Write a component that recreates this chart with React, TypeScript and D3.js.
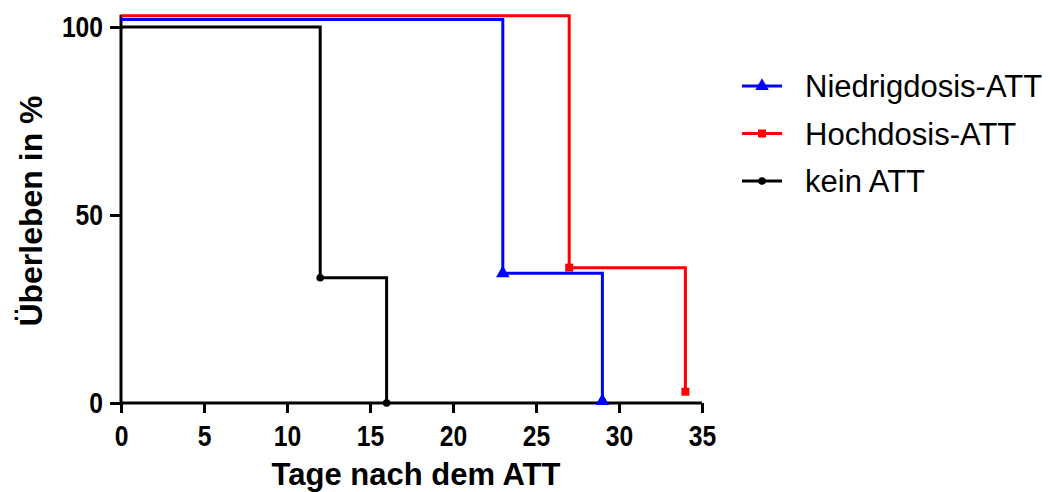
import React, { useEffect, useRef } from 'react';
import * as d3 from 'd3';

// survival steps (x = day, y = % survival, small offsets as drawn)
const seriesNames = ['Niedrigdosis-ATT', 'Hochdosis-ATT', 'kein ATT'];
const seriesColors = ['#0000ff', '#ff0000', '#000000'];
const seriesSymbols = ['triangle', 'square', 'circle'];
const niedrigDays = [0, 23, 29];
const niedrigSurv = [102, 34.5, 0.5];
const hochDays = [0, 27, 34];
const hochSurv = [103, 36, 3];
const keinDays = [0, 12, 16];
const keinSurv = [100, 33.3, 0];
const xTicks = [0, 5, 10, 15, 20, 25, 30, 35];
const yTicks = [0, 50, 100];

const App: React.FC = () => {
  const svgRef = useRef<SVGSVGElement>(null);

  useEffect(() => {
    if (!svgRef.current) return;
    const svg = d3.select(svgRef.current);
    svg.selectAll('*').remove();

    const x = d3.scaleLinear().domain([0, 35]).range([121, 702]);
    const y = d3.scaleLinear().domain([0, 100]).range([403, 27]);
    const font = '"Liberation Sans", Arial, sans-serif';
    const squeeze = 0.85; // tick digits look narrow in the reference

    const series = [
      { days: niedrigDays, surv: niedrigSurv },
      { days: hochDays, surv: hochSurv },
      { days: keinDays, surv: keinSurv },
    ];

    const symbolType = (s: string) =>
      s === 'triangle' ? d3.symbolTriangle : s === 'square' ? d3.symbolSquare : d3.symbolCircle;
    const symbolSize = (s: string) => (s === 'triangle' ? 80 : s === 'square' ? 64 : 45);

    // axes
    const xAxis = svg
      .append('g')
      .attr('transform', `translate(0,${y(0)})`)
      .call(d3.axisBottom(x).tickValues(xTicks).tickSize(10).tickPadding(12).tickSizeOuter(0));
    xAxis.select('.domain').attr('stroke-width', 3).attr('d', `M${x(0)},0H${x(35)}`);
    xAxis.selectAll('.tick line').attr('stroke-width', 3);
    xAxis
      .selectAll('.tick text')
      .attr('font-family', font)
      .attr('font-size', 29)
      .attr('font-weight', 'bold')
      .attr('fill', '#000')
      .attr('transform', `scale(${squeeze},1)`);

    const yAxis = svg
      .append('g')
      .attr('transform', `translate(${x(0)},0)`)
      .call(d3.axisLeft(y).tickValues(yTicks).tickSize(11).tickPadding(7).tickSizeOuter(0));
    yAxis.select('.domain').attr('stroke-width', 3).attr('d', `M0,${y(0)}V${y(103) - 1}`);
    yAxis.selectAll('.tick line').attr('stroke-width', 3);
    yAxis
      .selectAll('.tick text')
      .attr('font-family', font)
      .attr('font-size', 29)
      .attr('font-weight', 'bold')
      .attr('fill', '#000')
      .attr('x', -18 / squeeze)
      .attr('transform', `scale(${squeeze},1)`);

    // step lines (black first, then blue, then red on top)
    const order = [2, 0, 1];
    order.forEach((i) => {
      const s = series[i];
      const pts: [number, number][] = [];
      s.days.forEach((d, k) => {
        if (k > 0) pts.push([x(d), y(s.surv[k - 1])]);
        pts.push([x(d), y(s.surv[k])]);
      });
      svg
        .append('path')
        .attr('d', d3.line()(pts))
        .attr('fill', 'none')
        .attr('stroke', seriesColors[i])
        .attr('stroke-width', 3)
        .attr('stroke-linejoin', 'miter');
      s.days.slice(1).forEach((d, k) => {
        svg
          .append('path')
          .attr('d', d3.symbol(symbolType(seriesSymbols[i]), symbolSize(seriesSymbols[i]))())
          .attr('transform', `translate(${x(d)},${y(s.surv[k + 1])})`)
          .attr('fill', seriesColors[i]);
      });
    });

    // axis titles
    svg
      .append('text')
      .attr('x', 416)
      .attr('y', 485)
      .attr('text-anchor', 'middle')
      .attr('font-family', font)
      .attr('font-size', 31)
      .attr('font-weight', 'bold')
      .text('Tage nach dem ATT');

    svg
      .append('text')
      .attr('transform', 'translate(42,211) rotate(-90)')
      .attr('text-anchor', 'middle')
      .attr('font-family', font)
      .attr('font-size', 32)
      .attr('font-weight', 'bold')
      .text('Überleben in %');

    // legend
    const legend = svg.append('g').attr('transform', 'translate(742,86)');
    seriesNames.forEach((name, i) => {
      const g = legend.append('g').attr('transform', `translate(0,${i * 47.5})`);
      g.append('line')
        .attr('x1', 0)
        .attr('x2', 40)
        .attr('stroke', seriesColors[i])
        .attr('stroke-width', 3);
      g.append('path')
        .attr('d', d3.symbol(symbolType(seriesSymbols[i]), symbolSize(seriesSymbols[i]))())
        .attr('transform', 'translate(20,0)')
        .attr('fill', seriesColors[i]);
      g.append('text')
        .attr('x', 63)
        .attr('y', 11)
        .attr('font-family', font)
        .attr('font-size', 31)
        .attr('fill', '#000')
        .text(name);
    });
  }, []);

  return <svg ref={svgRef} width={1050} height={492} style={{ display: 'block', margin: '-8px 0 0 -8px' }} />;
};

export default App;
